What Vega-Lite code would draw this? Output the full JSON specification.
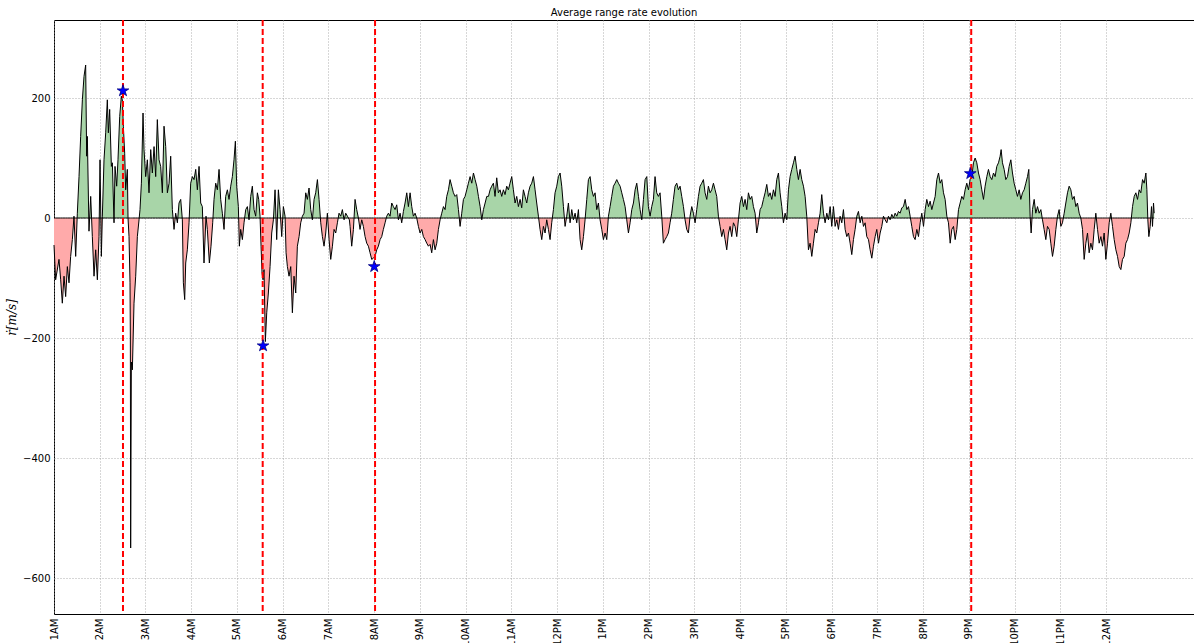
{
"$schema": "https://vega.github.io/schema/vega-lite/v6.json",
"width": 1140, "height": 594,
"autosize": {"type": "none"},
"padding": {"left": 54, "top": 20, "right": 0, "bottom": 29},
"background": "white",
"title": {"text": "Average range rate evolution", "font": "DejaVu Sans", "fontSize": 10, "fontWeight": "normal", "color": "black", "offset": 1},
"config": {
  "view": {"stroke": "black", "strokeWidth": 1},
  "axis": {"labelFont": "DejaVu Sans", "labelFontSize": 10, "labelColor": "black", "gridColor": "#9a9a9a", "gridDash": [1, 2], "gridWidth": 0.8, "domain": false, "ticks": false}
},
"datasets": {
"series": [
{"h":0,"v":-45},{"h":0.036,"v":-103},{"h":0.109,"v":-69},{"h":0.146,"v":-103},{"h":0.182,"v":-142},{"h":0.219,"v":-97},{"h":0.255,"v":-131},{"h":0.292,"v":-81},{"h":0.328,"v":-108},{"h":0.364,"v":-64},{"h":0.401,"v":-36},{"h":0.437,"v":3},{"h":0.474,"v":-64},{"h":0.51,"v":8},{"h":0.547,"v":69},{"h":0.583,"v":136},{"h":0.62,"v":197},{"h":0.656,"v":236},{"h":0.692,"v":255},{"h":0.714,"v":103},{"h":0.729,"v":136},{"h":0.765,"v":-22},{"h":0.802,"v":36},{"h":0.838,"v":-31},{"h":0.875,"v":-97},{"h":0.911,"v":-53},{"h":0.948,"v":-103},{"h":0.984,"v":-31},{"h":1.006,"v":97},{"h":1.035,"v":-64},{"h":1.057,"v":3},{"h":1.093,"v":97},{"h":1.13,"v":142},{"h":1.166,"v":197},{"h":1.188,"v":142},{"h":1.217,"v":181},{"h":1.254,"v":86},{"h":1.276,"v":92},{"h":1.312,"v":-8},{"h":1.334,"v":86},{"h":1.37,"v":53},{"h":1.399,"v":97},{"h":1.436,"v":169},{"h":1.472,"v":203},{"h":1.494,"v":197},{"h":1.516,"v":153},{"h":1.545,"v":108},{"h":1.567,"v":47},{"h":1.603,"v":81},{"h":1.618,"v":0},{"h":1.64,"v":-31},{"h":1.662,"v":-108},{"h":1.669,"v":-200},{"h":1.676,"v":-550},{"h":1.691,"v":-240},{"h":1.713,"v":-253},{"h":1.749,"v":-142},{"h":1.786,"v":-97},{"h":1.822,"v":-31},{"h":1.859,"v":-3},{"h":1.88,"v":14},{"h":1.91,"v":58},{"h":1.946,"v":175},{"h":1.968,"v":114},{"h":2.004,"v":69},{"h":2.041,"v":97},{"h":2.077,"v":42},{"h":2.114,"v":114},{"h":2.15,"v":75},{"h":2.187,"v":119},{"h":2.223,"v":69},{"h":2.259,"v":164},{"h":2.296,"v":97},{"h":2.332,"v":86},{"h":2.369,"v":42},{"h":2.405,"v":153},{"h":2.442,"v":119},{"h":2.478,"v":42},{"h":2.515,"v":58},{"h":2.551,"v":103},{"h":2.587,"v":14},{"h":2.624,"v":-19},{"h":2.66,"v":8},{"h":2.697,"v":-8},{"h":2.733,"v":25},{"h":2.77,"v":31},{"h":2.806,"v":-3},{"h":2.828,"v":-108},{"h":2.857,"v":-136},{"h":2.879,"v":-75},{"h":2.915,"v":-53},{"h":2.952,"v":-8},{"h":2.988,"v":58},{"h":3.025,"v":69},{"h":3.061,"v":64},{"h":3.098,"v":81},{"h":3.134,"v":47},{"h":3.171,"v":86},{"h":3.207,"v":25},{"h":3.243,"v":19},
{"h":3.279,"v":-75},{"h":3.323,"v":3},{"h":3.352,"v":-19},{"h":3.396,"v":-75},{"h":3.432,"v":-47},{"h":3.469,"v":-8},{"h":3.498,"v":31},{"h":3.535,"v":58},{"h":3.571,"v":47},{"h":3.608,"v":81},{"h":3.644,"v":31},{"h":3.68,"v":8},{"h":3.717,"v":-19},{"h":3.753,"v":36},{"h":3.79,"v":47},{"h":3.826,"v":31},{"h":3.863,"v":53},{"h":3.899,"v":69},{"h":3.935,"v":97},{"h":3.965,"v":128},{"h":3.994,"v":53},{"h":4.03,"v":19},{"h":4.052,"v":-47},{"h":4.081,"v":-19},{"h":4.118,"v":-36},{"h":4.154,"v":-8},{"h":4.191,"v":14},{"h":4.227,"v":19},{"h":4.263,"v":-3},{"h":4.3,"v":36},{"h":4.336,"v":53},{"h":4.373,"v":14},{"h":4.409,"v":3},{"h":4.446,"v":42},{"h":4.475,"v":31},{"h":4.504,"v":3},{"h":4.526,"v":-47},{"h":4.548,"v":-92},{"h":4.57,"v":-103},{"h":4.591,"v":-86},{"h":4.62,"v":-206},{"h":4.65,"v":-158},{"h":4.686,"v":-125},{"h":4.723,"v":-81},{"h":4.759,"v":-25},{"h":4.796,"v":-3},{"h":4.832,"v":47},{"h":4.868,"v":-36},{"h":4.905,"v":47},{"h":4.941,"v":14},{"h":4.978,"v":-31},{"h":5.014,"v":19},{"h":5.051,"v":3},{"h":5.073,"v":-58},{"h":5.102,"v":-81},{"h":5.138,"v":-97},{"h":5.175,"v":-81},{"h":5.211,"v":-158},{"h":5.247,"v":-97},{"h":5.284,"v":-125},{"h":5.32,"v":-47},{"h":5.357,"v":-31},{"h":5.393,"v":-8},{"h":5.43,"v":3},{"h":5.466,"v":8},{"h":5.503,"v":42},{"h":5.539,"v":31},{"h":5.575,"v":50},{"h":5.612,"v":14},{"h":5.648,"v":-3},{"h":5.685,"v":31},{"h":5.721,"v":42},{"h":5.758,"v":64},{"h":5.794,"v":31},{"h":5.831,"v":-8},{"h":5.867,"v":-31},{"h":5.903,"v":-47},{"h":5.94,"v":-25},{"h":5.976,"v":8},{"h":6.013,"v":-36},{"h":6.049,"v":-69},{"h":6.086,"v":-47},{"h":6.122,"v":-19},{"h":6.158,"v":-25},{"h":6.195,"v":-8},{"h":6.231,"v":8},{"h":6.268,"v":3},{"h":6.304,"v":14},{"h":6.341,"v":-3},{"h":6.377,"v":8},{"h":6.414,"v":3},{"h":6.457,"v":-3},
{"h":6.472,"v":-14},{"h":6.508,"v":-47},{"h":6.545,"v":-19},{"h":6.581,"v":31},{"h":6.617,"v":14},{"h":6.654,"v":0},{"h":6.69,"v":-19},{"h":6.727,"v":-3},{"h":6.763,"v":-14},{"h":6.8,"v":-31},{"h":6.836,"v":-42},{"h":6.873,"v":-47},{"h":6.909,"v":-58},{"h":6.945,"v":-69},{"h":6.982,"v":-67},{"h":7.018,"v":-64},{"h":7.055,"v":-53},{"h":7.091,"v":-47},{"h":7.128,"v":-36},{"h":7.164,"v":-31},{"h":7.2,"v":-19},{"h":7.237,"v":-8},{"h":7.273,"v":3},{"h":7.31,"v":8},{"h":7.346,"v":3},{"h":7.383,"v":25},{"h":7.419,"v":19},{"h":7.456,"v":14},{"h":7.492,"v":22},{"h":7.529,"v":-3},{"h":7.565,"v":8},{"h":7.601,"v":-8},{"h":7.638,"v":11},{"h":7.674,"v":25},{"h":7.711,"v":42},{"h":7.747,"v":19},{"h":7.784,"v":42},{"h":7.82,"v":19},{"h":7.856,"v":3},{"h":7.893,"v":8},{"h":7.929,"v":0},{"h":7.966,"v":-14},{"h":8.002,"v":-25},{"h":8.039,"v":-19},{"h":8.075,"v":-31},{"h":8.112,"v":-36},{"h":8.148,"v":-42},{"h":8.185,"v":-47},{"h":8.221,"v":-44},{"h":8.257,"v":-58},{"h":8.294,"v":-36},{"h":8.33,"v":-53},{"h":8.367,"v":-42},{"h":8.403,"v":-19},{"h":8.44,"v":-3},{"h":8.476,"v":8},{"h":8.513,"v":19},{"h":8.549,"v":14},{"h":8.585,"v":36},{"h":8.622,"v":47},{"h":8.658,"v":64},{"h":8.695,"v":53},{"h":8.731,"v":42},{"h":8.768,"v":36},{"h":8.804,"v":39},{"h":8.841,"v":14},{"h":8.877,"v":-14},{"h":8.913,"v":8},{"h":8.95,"v":31},{"h":8.986,"v":36},{"h":9.023,"v":47},{"h":9.059,"v":58},{"h":9.096,"v":69},{"h":9.132,"v":58},{"h":9.169,"v":75},{"h":9.205,"v":64},{"h":9.242,"v":53},{"h":9.278,"v":36},{"h":9.315,"v":19},{"h":9.351,"v":-3},{"h":9.387,"v":14},{"h":9.424,"v":25},{"h":9.46,"v":36},{"h":9.497,"v":36},{"h":9.533,"v":47},
{"h":9.568,"v":53},{"h":9.605,"v":58},{"h":9.641,"v":36},{"h":9.678,"v":67},{"h":9.714,"v":42},{"h":9.751,"v":47},{"h":9.787,"v":36},{"h":9.824,"v":47},{"h":9.86,"v":39},{"h":9.896,"v":53},{"h":9.933,"v":47},{"h":9.969,"v":58},{"h":10.006,"v":69},{"h":10.042,"v":47},{"h":10.079,"v":25},{"h":10.115,"v":36},{"h":10.152,"v":19},{"h":10.188,"v":31},{"h":10.224,"v":17},{"h":10.261,"v":47},{"h":10.297,"v":36},{"h":10.334,"v":25},{"h":10.37,"v":42},{"h":10.407,"v":53},{"h":10.443,"v":58},{"h":10.48,"v":69},{"h":10.516,"v":47},{"h":10.552,"v":25},{"h":10.589,"v":3},{"h":10.625,"v":-19},{"h":10.662,"v":-36},{"h":10.698,"v":-14},{"h":10.735,"v":-25},{"h":10.771,"v":-3},{"h":10.808,"v":-19},{"h":10.844,"v":-36},{"h":10.88,"v":-8},{"h":10.917,"v":14},{"h":10.953,"v":42},{"h":10.99,"v":53},{"h":11.026,"v":69},{"h":11.063,"v":75},{"h":11.099,"v":53},{"h":11.136,"v":19},{"h":11.172,"v":-14},{"h":11.208,"v":3},{"h":11.245,"v":25},{"h":11.281,"v":-8},{"h":11.318,"v":14},{"h":11.354,"v":-3},{"h":11.391,"v":8},{"h":11.427,"v":-8},{"h":11.464,"v":14},{"h":11.5,"v":-36},{"h":11.536,"v":-53},{"h":11.573,"v":-31},{"h":11.609,"v":-3},{"h":11.646,"v":31},{"h":11.682,"v":64},{"h":11.719,"v":69},{"h":11.755,"v":47},{"h":11.792,"v":36},{"h":11.828,"v":42},{"h":11.864,"v":14},{"h":11.901,"v":25},{"h":11.937,"v":-3},{"h":11.974,"v":-19},{"h":12.01,"v":-36},{"h":12.047,"v":-25},{"h":12.083,"v":-36},{"h":12.12,"v":3},{"h":12.156,"v":19},{"h":12.192,"v":36},{"h":12.229,"v":53},{"h":12.265,"v":58},{"h":12.302,"v":64},{"h":12.338,"v":58},{"h":12.375,"v":53},{"h":12.411,"v":42},{"h":12.447,"v":31},{"h":12.484,"v":19},{"h":12.52,"v":-3},{"h":12.557,"v":-25},{"h":12.593,"v":-8},{"h":12.63,"v":14},{"h":12.666,"v":25},{"h":12.703,"v":47},{"h":12.739,"v":58},{"h":12.776,"v":36},{"h":12.812,"v":14},{"h":12.848,"v":-3},{"h":12.885,"v":31},{"h":12.921,"v":64},{"h":12.958,"v":69},
{"h":12.993,"v":19},{"h":13.03,"v":3},{"h":13.066,"v":19},{"h":13.103,"v":31},{"h":13.139,"v":69},{"h":13.175,"v":42},{"h":13.212,"v":36},{"h":13.248,"v":42},{"h":13.285,"v":3},{"h":13.321,"v":-42},{"h":13.358,"v":-36},{"h":13.394,"v":-31},{"h":13.431,"v":-25},{"h":13.467,"v":-8},{"h":13.503,"v":8},{"h":13.54,"v":31},{"h":13.576,"v":53},{"h":13.613,"v":58},{"h":13.649,"v":47},{"h":13.686,"v":53},{"h":13.722,"v":36},{"h":13.759,"v":19},{"h":13.795,"v":-3},{"h":13.831,"v":-19},{"h":13.868,"v":-25},{"h":13.904,"v":3},{"h":13.941,"v":19},{"h":13.977,"v":8},{"h":14.014,"v":-8},{"h":14.05,"v":14},{"h":14.087,"v":36},{"h":14.123,"v":53},{"h":14.159,"v":58},{"h":14.196,"v":64},{"h":14.232,"v":42},{"h":14.269,"v":31},{"h":14.305,"v":53},{"h":14.342,"v":42},{"h":14.378,"v":47},{"h":14.415,"v":58},{"h":14.451,"v":47},{"h":14.487,"v":36},{"h":14.524,"v":3},{"h":14.56,"v":-14},{"h":14.597,"v":-31},{"h":14.633,"v":-19},{"h":14.67,"v":-36},{"h":14.706,"v":-53},{"h":14.743,"v":-25},{"h":14.779,"v":-14},{"h":14.815,"v":-31},{"h":14.852,"v":-8},{"h":14.888,"v":-14},{"h":14.925,"v":-31},{"h":14.961,"v":-3},{"h":14.998,"v":25},{"h":15.034,"v":36},{"h":15.071,"v":19},{"h":15.107,"v":31},{"h":15.143,"v":14},{"h":15.18,"v":42},{"h":15.216,"v":31},{"h":15.253,"v":36},{"h":15.289,"v":19},{"h":15.326,"v":8},{"h":15.362,"v":-25},{"h":15.399,"v":-8},{"h":15.435,"v":14},{"h":15.471,"v":19},{"h":15.508,"v":31},{"h":15.544,"v":42},{"h":15.581,"v":56},{"h":15.617,"v":36},{"h":15.654,"v":42},{"h":15.69,"v":31},{"h":15.727,"v":47},{"h":15.763,"v":36},{"h":15.799,"v":64},{"h":15.836,"v":75},{"h":15.872,"v":42},{"h":15.909,"v":19},{"h":15.945,"v":-8},{"h":15.982,"v":8},{"h":16.018,"v":-3},{"h":16.055,"v":47},{"h":16.091,"v":69},{"h":16.127,"v":81},{"h":16.164,"v":92},{"h":16.2,"v":103},{"h":16.237,"v":81},{"h":16.273,"v":64},
{"h":16.31,"v":81},{"h":16.346,"v":64},{"h":16.383,"v":53},{"h":16.419,"v":36},{"h":16.455,"v":3},{"h":16.492,"v":-53},{"h":16.528,"v":-42},{"h":16.565,"v":-64},{"h":16.601,"v":-42},{"h":16.638,"v":-19},{"h":16.674,"v":-25},{"h":16.711,"v":-8},{"h":16.747,"v":8},{"h":16.783,"v":39},{"h":16.82,"v":8},{"h":16.856,"v":-8},{"h":16.893,"v":8},{"h":16.929,"v":-3},{"h":16.966,"v":19},{"h":17.002,"v":-14},{"h":17.039,"v":19},{"h":17.075,"v":-14},{"h":17.111,"v":-3},{"h":17.148,"v":-19},{"h":17.184,"v":3},{"h":17.221,"v":-8},{"h":17.257,"v":14},{"h":17.294,"v":-19},{"h":17.33,"v":-31},{"h":17.367,"v":-25},{"h":17.403,"v":-42},{"h":17.439,"v":-61},{"h":17.476,"v":-36},{"h":17.512,"v":-19},{"h":17.549,"v":3},{"h":17.585,"v":11},{"h":17.622,"v":-8},{"h":17.658,"v":3},{"h":17.695,"v":-14},{"h":17.731,"v":-8},{"h":17.767,"v":-31},{"h":17.804,"v":-36},{"h":17.84,"v":-53},{"h":17.877,"v":-67},{"h":17.913,"v":-47},{"h":17.95,"v":-31},{"h":17.986,"v":-19},{"h":18.023,"v":-42},{"h":18.059,"v":-25},{"h":18.095,"v":-14},{"h":18.132,"v":3},{"h":18.168,"v":-3},{"h":18.205,"v":-8},{"h":18.241,"v":3},{"h":18.278,"v":-3},{"h":18.314,"v":6},{"h":18.351,"v":0},{"h":18.387,"v":8},{"h":18.423,"v":3},{"h":18.46,"v":11},{"h":18.496,"v":8},{"h":18.533,"v":17},{"h":18.569,"v":19},{"h":18.606,"v":31},{"h":18.642,"v":14},{"h":18.679,"v":19},{"h":18.715,"v":3},{"h":18.751,"v":-14},{"h":18.788,"v":-31},{"h":18.824,"v":-36},{"h":18.861,"v":-19},{"h":18.897,"v":-31},{"h":18.934,"v":-8},{"h":18.97,"v":8},{"h":19.007,"v":-14},{"h":19.043,"v":14},{"h":19.079,"v":31},{"h":19.116,"v":19},{"h":19.152,"v":28},{"h":19.189,"v":14},{"h":19.225,"v":25},{"h":19.262,"v":36},{"h":19.298,"v":64},{"h":19.335,"v":75},{"h":19.371,"v":58},{"h":19.407,"v":64},{"h":19.444,"v":42},{"h":19.48,"v":31},{"h":19.517,"v":3},{"h":19.553,"v":-8},{"h":19.59,"v":-42},{"h":19.626,"v":-19},{"h":19.663,"v":-14},{"h":19.699,"v":-36},{"h":19.735,"v":-19},{"h":19.772,"v":14},{"h":19.808,"v":25},
{"h":19.844,"v":36},{"h":19.881,"v":31},{"h":19.917,"v":47},{"h":19.953,"v":58},{"h":19.99,"v":47},{"h":20.026,"v":64},{"h":20.063,"v":69},{"h":20.099,"v":92},{"h":20.136,"v":100},{"h":20.172,"v":92},{"h":20.209,"v":75},{"h":20.245,"v":64},{"h":20.281,"v":47},{"h":20.318,"v":31},{"h":20.354,"v":53},{"h":20.391,"v":69},{"h":20.427,"v":81},{"h":20.464,"v":69},{"h":20.5,"v":64},{"h":20.537,"v":75},{"h":20.573,"v":69},{"h":20.609,"v":86},{"h":20.646,"v":92},{"h":20.682,"v":103},{"h":20.704,"v":114},{"h":20.733,"v":92},{"h":20.77,"v":81},{"h":20.806,"v":64},{"h":20.843,"v":69},{"h":20.879,"v":86},{"h":20.916,"v":97},{"h":20.952,"v":75},{"h":20.988,"v":58},{"h":21.025,"v":47},{"h":21.061,"v":36},{"h":21.098,"v":47},{"h":21.134,"v":31},{"h":21.171,"v":42},{"h":21.207,"v":47},{"h":21.244,"v":58},{"h":21.28,"v":69},{"h":21.309,"v":81},{"h":21.338,"v":3},{"h":21.36,"v":-25},{"h":21.389,"v":14},{"h":21.426,"v":31},{"h":21.462,"v":8},{"h":21.499,"v":19},{"h":21.535,"v":8},{"h":21.572,"v":14},{"h":21.608,"v":-3},{"h":21.644,"v":-19},{"h":21.681,"v":-36},{"h":21.717,"v":-14},{"h":21.754,"v":-19},{"h":21.79,"v":-42},{"h":21.827,"v":-64},{"h":21.863,"v":-47},{"h":21.9,"v":-19},{"h":21.936,"v":3},{"h":21.972,"v":14},{"h":22.009,"v":-14},{"h":22.045,"v":-8},{"h":22.082,"v":8},{"h":22.118,"v":25},{"h":22.155,"v":42},{"h":22.191,"v":53},{"h":22.228,"v":47},{"h":22.264,"v":31},{"h":22.3,"v":36},{"h":22.337,"v":19},{"h":22.373,"v":25},{"h":22.41,"v":8},{"h":22.446,"v":0},{"h":22.483,"v":-19},{"h":22.519,"v":-69},{"h":22.556,"v":-42},{"h":22.592,"v":-25},{"h":22.628,"v":-58},{"h":22.665,"v":-42},{"h":22.701,"v":-53},{"h":22.738,"v":-19},{"h":22.774,"v":8},{"h":22.811,"v":-19},{"h":22.847,"v":-42},{"h":22.884,"v":-31},{"h":22.92,"v":-47},{"h":22.956,"v":-25},{"h":22.993,"v":-69},{"h":23.029,"v":-42},{"h":23.066,"v":-8},{"h":23.102,"v":8},{"h":23.139,"v":-14},{"h":23.175,"v":-36},{"h":23.212,"v":-53},{"h":23.248,"v":-64},{"h":23.285,"v":-81},{"h":23.321,"v":-86},{"h":23.357,"v":-69},{"h":23.394,"v":-64},{"h":23.43,"v":-42},{"h":23.467,"v":-36},{"h":23.503,"v":-25},{"h":23.54,"v":-8},{"h":23.576,"v":19},{"h":23.613,"v":36},{"h":23.649,"v":42},{"h":23.685,"v":31},{"h":23.722,"v":47},{"h":23.758,"v":42},{"h":23.795,"v":64},{"h":23.831,"v":58},{"h":23.868,"v":75},{"h":23.89,"v":47},{"h":23.911,"v":-3},{"h":23.933,"v":-31},{"h":23.962,"v":-14},{"h":23.991,"v":19},{"h":24.013,"v":-14},{"h":24.035,"v":25},{"h":24.05,"v":8}
],
"events": [{"t": 1.508}, {"t": 4.562}, {"t": 7.018}, {"t": 20.05}],
"stars": [{"t": 1.508, "v": 212}, {"t": 4.57, "v": -213}, {"t": 7.0, "v": -81}, {"t": 20.03, "v": 74}]
},
"layer": [
{
  "data": {"name": "series"},
  "mark": {"type": "area", "opacity": 1, "color": {"gradient": "linear", "x1": 0, "y1": 0, "x2": 0, "y2": 1, "stops": [{"offset": 0, "color": "#a8d5a8"}, {"offset": 0.31677, "color": "#a8d5a8"}, {"offset": 0.31677, "color": "#ffaaaa"}, {"offset": 1, "color": "#ffaaaa"}]}},
  "encoding": {
    "x": {"field": "h", "type": "quantitative", "scale": {"domain": [0, 24.92], "nice": false, "zero": false},
      "axis": {"values": [0,1,2,3,4,5,6,7,8,9,10,11,12,13,14,15,16,17,18,19,20,21,22,23], "labelExpr": "['1AM','2AM','3AM','4AM','5AM','6AM','7AM','8AM','9AM','10AM','11AM','12PM','1PM','2PM','3PM','4PM','5PM','6PM','7PM','8PM','9PM','10PM','11PM','12AM'][datum.value]", "labelAngle": -90, "labelAlign": "right", "labelBaseline": "middle", "labelPadding": 4, "labelFlush": false, "labelOverlap": false, "labelBound": false, "title": null, "grid": true}},
    "y": {"field": "v", "type": "quantitative", "scale": {"domain": [-660, 330], "nice": false, "zero": false},
      "axis": {"values": [-600, -400, -200, 0, 200], "title": "\u1e59[m/s]", "titleFont": "DejaVu Serif", "titleFontStyle": "italic", "titleFontWeight": "normal", "titleFontSize": 12, "titleColor": "black", "titlePadding": 4, "labelPadding": 4, "grid": true}},
    "y2": {"datum": 0}
  }
},
{
  "data": {"name": "series"},
  "mark": {"type": "line", "color": "black", "strokeWidth": 1},
  "encoding": {
    "x": {"field": "h", "type": "quantitative"},
    "y": {"datum": 0, "type": "quantitative"}
  }
},
{
  "data": {"name": "series"},
  "mark": {"type": "line", "color": "black", "strokeWidth": 1},
  "encoding": {
    "x": {"field": "h", "type": "quantitative"},
    "y": {"field": "v", "type": "quantitative"}
  }
},
{
  "data": {"name": "events"},
  "mark": {"type": "rule", "color": "red", "strokeWidth": 2, "strokeDash": [6, 3]},
  "encoding": {
    "x": {"field": "t", "type": "quantitative"}
  }
},
{
  "data": {"name": "stars"},
  "mark": {"type": "point", "shape": "M0,-1L0.2245,-0.309L0.951,-0.309L0.363,0.118L0.588,0.809L0,0.382L-0.588,0.809L-0.363,0.118L-0.951,-0.309L-0.2245,-0.309Z", "filled": true, "fill": "blue", "stroke": "#000080", "strokeWidth": 0.8, "size": 150, "opacity": 1},
  "encoding": {
    "x": {"field": "t", "type": "quantitative"},
    "y": {"field": "v", "type": "quantitative"}
  }
}
]
}
